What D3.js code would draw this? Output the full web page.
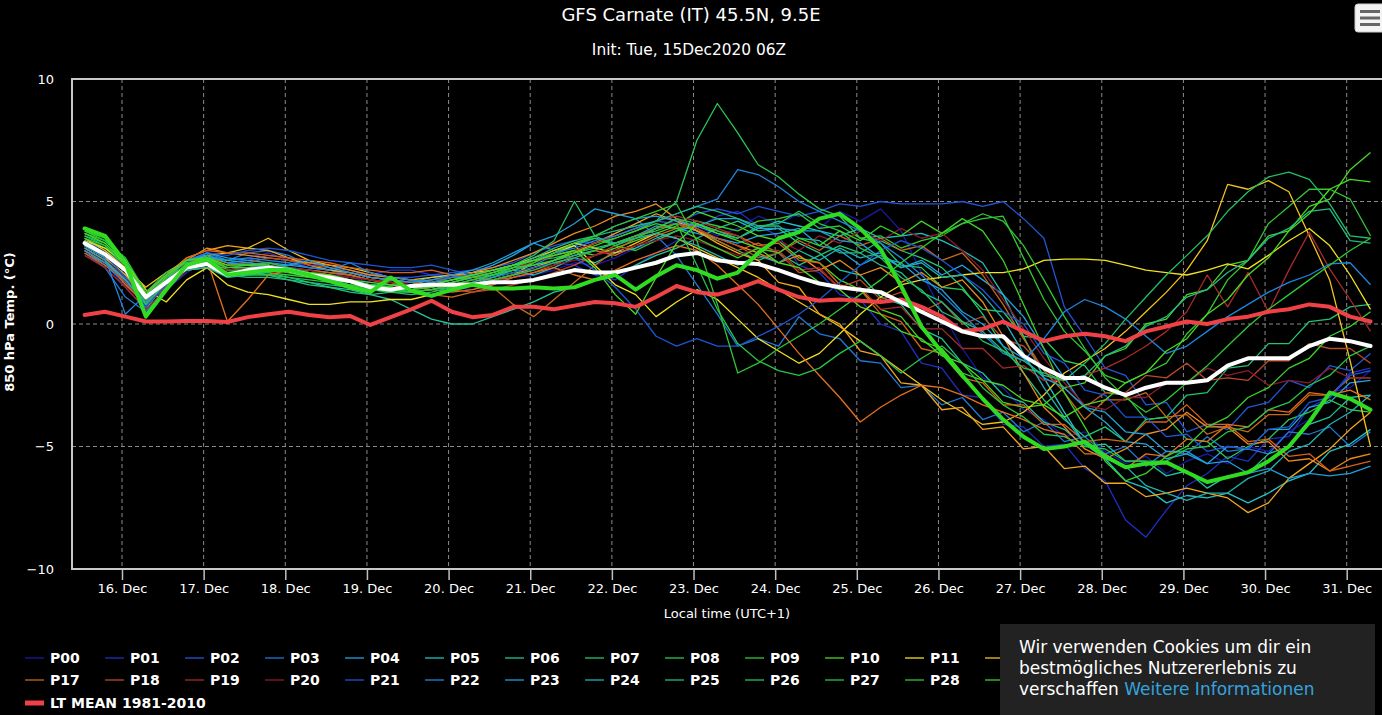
<!DOCTYPE html>
<html lang="de">
<head>
<meta charset="UTF-8">
<title>GFS Carnate (IT) 45.5N, 9.5E</title>
<style>
  * { box-sizing: border-box; }
  body { margin: 0; background: #000; overflow: hidden; font-family: "DejaVu Sans", sans-serif; }
  svg { display: block; }
  .grid line { stroke: #8a8a8a; stroke-width: 1; stroke-dasharray: 4,3; }
  .axis text { fill: #fff; font-size: 13px; font-family: "DejaVu Sans", sans-serif; }
  .axis .tick line { stroke: #c0c0c0; stroke-width: 1.5; }
  .member { fill: none; stroke-width: 1.3; stroke-linejoin: round; }
  .thick { fill: none; stroke-width: 4; stroke-linejoin: round; stroke-linecap: round; }
  .legend text { fill: #fff; font-size: 14px; font-weight: bold; }
  .cookie text { font-family: "DejaVu Sans", sans-serif; font-size: 17px; fill: #fff; }
  .cookie text.link { fill: #35a2de; }
</style>
</head>
<body>
<svg id="chart" width="1382" height="715"></svg>

<script src="https://d3js.org/d3.v7.min.js"></script>
<script>
// forecast steps: GFS ensemble, init 15 Dec 2020 06Z, every 6 h up to +384 h
var initUTC = Date.UTC(2020, 11, 15, 6);
var leadHours = d3.range(6, 385, 6);
var utcOffset = 1; // local time UTC+1

var memberNames = ['P00','P01','P02','P03','P04','P05','P06','P07','P08','P09','P10',
  'P11','P12','P13','P14','P15','P16','P17','P18','P19','P20',
  'P21','P22','P23','P24','P25','P26','P27','P28','P29','P30'];
var memberColors = ['#1a1aa6','#1f2fc4','#2255d9','#1f78d6','#22a4dd','#22c1c4','#22c49a',
  '#22c474','#2ac853','#34c832','#4cd622','#f0e21e','#f2c41e','#f2a51e','#ee8a1e',
  '#e6701e','#d8601a','#c66a1a','#bb4a26','#a82a2a','#8c1a2e','#1c55d6','#1f85dc',
  '#1f9fd8','#22b1b1','#22bb86','#22c062','#28c445','#30c832','#3ad228','#48dc20'];

// 850 hPa temperature (°C), one value per step
var p00 = [3.1,2.6,1.8,0.8,1.6,2.2,2.4,2.1,2.3,2.4,2.3,2.2,2.1,1.9,1.7,1.6,
  1.8,1.7,1.5,1.4,1.6,1.9,2.0,2.2,2.5,2.4,2.7,3.1,3.4,3.8,4.0,3.6,
  3.9,4.4,4.1,4.5,3.9,4.6,4.2,4.7,3.8,2.1,0.5,-1.0,-2.2,-2.6,-3.5,-3.9,
  -4.6,-4.4,-5.2,-5.7,-5.4,-6.1,-5.6,-5.3,-5.7,-5.0,-5.2,-4.4,-3.9,-2.8,-2.6,-1.9];
var p01 = [3.0,2.5,1.5,0.6,1.4,2.1,2.6,2.4,2.7,2.9,2.6,2.3,2.2,2.1,2.0,2.2,
  2.2,2.0,1.9,1.8,1.7,1.9,2.3,2.5,2.4,2.0,1.8,2.4,2.9,3.4,3.9,4.4,
  4.6,4.0,3.6,2.4,2.1,1.2,1.0,0.0,-0.3,-1.6,-1.8,-2.9,-3.0,-4.1,-4.2,-5.0,
  -4.9,-5.9,-6.4,-8.0,-8.7,-7.6,-6.6,-6.1,-5.4,-5.6,-4.7,-4.6,-3.4,-3.0,-2.0,-1.8];
var p02 = [3.4,3.0,2.4,1.2,1.9,2.6,2.8,2.5,2.6,2.8,2.7,2.5,2.3,2.2,2.0,1.9,
  1.9,2.0,2.1,2.2,2.3,2.5,2.9,3.2,3.4,3.3,3.6,3.9,4.2,4.1,4.5,4.7,
  4.5,4.8,4.6,4.4,4.6,4.9,4.8,5.0,4.9,4.9,4.9,5.0,4.8,5.0,4.3,3.5,
  0.7,-0.5,-1.8,-2.1,-3.3,-3.2,-4.4,-4.1,-4.3,-3.4,-3.2,-2.3,-2.6,-1.7,-1.9,-1.2];
var p03 = [2.9,2.3,1.1,0.5,1.5,2.4,2.8,2.6,2.9,3.0,2.8,2.4,2.2,2.0,1.8,1.7,
  1.6,1.5,1.7,1.9,2.0,2.2,2.4,2.8,3.2,3.6,4.0,4.3,3.6,2.8,1.6,0.4,
  -0.9,-0.6,-0.9,0.3,-0.4,-0.6,-1.5,-1.6,-2.6,-2.5,-3.3,-3.0,-3.9,-3.6,-4.4,-4.0,
  -4.8,-4.6,-5.3,-5.0,-5.8,-5.2,-5.3,-4.6,-5.2,-5.1,-5.3,-4.4,-4.5,-4.2,-5.0,-4.4];
var p04 = [3.0,2.4,1.7,0.7,1.6,2.5,2.9,2.7,2.6,2.5,2.4,2.3,2.2,2.1,1.9,1.8,
  1.7,1.9,2.0,2.1,2.4,2.8,3.3,3.0,3.2,3.5,3.3,3.6,4.0,3.9,3.7,3.5,
  3.3,3.6,3.7,3.9,3.2,3.0,2.4,2.8,2.3,2.6,2.0,2.4,1.8,1.2,0.3,-1.0,
  -2.2,-3.4,-4.0,-4.8,-4.9,-5.5,-5.3,-5.7,-5.0,-5.1,-4.3,-4.3,-3.4,-3.2,-2.4,-2.3];
var p05 = [3.2,2.7,2.0,0.9,1.8,2.4,2.5,2.2,2.3,2.4,2.2,2.1,1.9,1.8,1.6,1.6,
  1.6,1.8,1.9,1.9,2.0,2.2,2.0,2.3,2.7,2.5,2.9,3.1,3.5,3.8,4.0,3.7,
  3.5,3.9,4.2,4.0,3.8,3.6,3.9,3.5,3.6,3.7,3.4,3.0,2.5,1.2,-0.5,-2.2,
  -3.6,-4.9,-5.5,-6.4,-6.7,-7.3,-7.0,-7.1,-6.9,-7.3,-6.9,-6.4,-6.1,-5.2,-4.9,-4.3];
var p06 = [3.3,2.9,2.2,0.6,1.7,2.2,2.3,1.9,2.0,2.1,1.9,1.7,1.5,1.4,1.2,1.0,
  0.6,0.2,0.0,0.0,0.3,0.6,0.9,1.3,1.5,1.8,2.0,2.4,2.8,3.1,3.5,3.9,
  4.2,3.8,3.9,3.3,2.9,2.2,2.0,1.1,0.8,-0.2,-0.6,-1.6,-2.0,-2.9,-3.2,-4.0,
  -4.3,-5.0,-4.9,-5.6,-5.6,-6.2,-6.0,-6.7,-6.2,-6.1,-5.3,-5.0,-4.1,-3.8,-3.0,-2.9];
var p07 = [3.6,3.2,2.5,1.0,1.8,2.2,2.3,2.0,2.1,2.0,1.8,1.6,1.5,1.3,1.2,1.3,
  1.5,1.7,1.8,2.0,2.2,2.4,2.6,2.7,2.9,3.1,3.3,3.6,3.9,4.1,3.8,3.4,
  3.0,2.6,2.9,2.4,2.8,3.2,2.9,3.4,3.0,2.7,2.3,1.5,0.4,-0.9,-2.0,-3.1,
  -3.9,-4.6,-4.2,-4.8,-3.9,-3.8,-2.9,-2.8,-1.8,-1.7,-0.8,-0.8,0.1,0.2,0.7,0.8];
var p08 = [3.5,3.1,2.4,0.9,1.7,2.3,2.5,2.1,2.2,2.3,2.1,2.0,1.8,1.7,1.6,1.5,
  1.4,1.6,1.8,1.9,2.1,2.4,2.6,2.8,3.0,3.3,3.5,3.8,4.2,5.0,7.5,9.0,
  7.8,6.5,6.0,5.3,4.7,4.4,3.5,3.3,2.4,2.3,1.5,1.4,0.6,0.5,-0.5,-0.6,
  -1.5,-1.7,-2.8,-2.9,-3.9,-3.8,-4.7,-4.8,-5.5,-5.0,-4.7,-3.9,-3.6,-3.1,-3.5,-3.6];
var p09 = [3.8,3.4,2.6,1.2,2.0,2.5,2.6,2.2,2.2,2.1,2.0,1.9,1.8,1.6,1.5,1.4,
  1.3,1.4,1.6,1.8,2.0,2.3,2.6,3.0,3.3,3.5,3.2,3.0,3.4,3.8,4.2,4.0,
  3.8,4.2,4.3,4.5,3.9,4.0,3.5,3.6,3.1,3.4,3.6,4.1,4.3,4.4,2.7,1.0,
  -0.3,-1.1,-2.1,-2.4,-2.0,-1.6,-0.4,0.4,1.8,2.6,4.1,4.8,5.5,5.5,5.1,3.6];
var p10 = [3.9,3.6,2.6,0.4,1.5,2.5,2.8,2.2,2.3,2.4,2.2,2.1,1.9,1.7,1.5,1.4,
  1.3,1.4,1.6,1.7,1.9,2.1,2.3,2.6,3.0,2.8,3.1,3.4,3.7,4.0,4.6,4.3,
  4.0,3.6,3.4,2.7,2.5,1.8,1.4,0.6,0.3,-0.7,-1.0,-2.0,-2.3,-3.2,-3.4,-3.3,
  -2.6,-2.4,-1.3,-1.0,0.0,0.2,1.2,1.4,2.4,2.6,3.6,3.8,4.8,5.1,6.3,7.0];
var p11 = [3.4,3.1,2.5,1.4,0.9,1.8,2.3,1.6,1.3,1.2,1.0,0.8,0.8,0.9,0.9,1.0,
  1.0,1.2,1.4,1.6,1.8,2.0,2.5,2.9,3.2,2.4,1.6,1.2,0.3,0.9,1.4,1.0,
  0.2,-0.6,-1.1,-1.6,-1.2,-0.4,0.4,1.1,1.6,1.8,1.9,2.0,2.1,2.1,2.25,2.6,
  2.65,2.65,2.6,2.4,2.2,2.1,2.0,2.2,2.45,2.25,2.8,3.4,3.9,3.2,2.0,0.6];
var p12 = [3.5,3.0,2.3,1.5,2.1,2.6,2.8,2.9,3.1,3.5,3.0,2.6,2.4,2.3,2.1,1.9,
  1.8,1.9,2.0,2.1,2.2,2.4,2.7,3.0,3.3,3.1,2.9,3.3,3.7,3.5,3.1,2.7,
  2.3,1.9,1.4,0.9,0.4,-0.1,-0.7,-1.3,-1.9,-2.5,-3.1,-3.6,-4.1,-4.0,-3.6,-2.9,
  -2.0,-1.5,-1.0,-0.3,0.5,1.3,2.2,3.4,5.7,5.5,5.85,5.4,3.6,1.8,-1.5,-5.0];
var p13 = [3.2,2.7,2.0,1.3,2.0,2.7,3.0,3.2,3.1,3.0,2.7,2.4,2.2,2.1,1.9,1.8,
  1.7,1.6,1.5,1.6,1.8,2.0,2.3,2.6,2.9,3.3,3.7,4.1,4.5,4.2,3.8,3.3,
  2.9,2.6,1.7,1.5,0.4,0.0,-1.1,-1.3,-2.4,-2.5,-3.5,-3.4,-4.3,-4.2,-5.1,-5.0,
  -5.9,-5.8,-6.5,-6.5,-7.05,-6.9,-6.7,-6.9,-7.1,-7.7,-7.3,-6.3,-5.7,-5.1,-4.3,-3.6];
var p14 = [3.0,2.5,1.9,1.1,1.8,2.6,3.1,2.9,2.8,2.7,2.6,2.5,2.4,2.2,2.0,1.9,
  1.8,1.7,1.9,2.1,2.3,2.6,2.9,3.3,3.7,4.0,4.4,4.6,4.9,4.3,3.8,3.5,
  3.2,2.9,2.5,2.8,2.2,2.6,2.0,2.3,1.7,2.1,1.5,1.8,0.9,-0.5,-2.0,-3.4,
  -4.2,-5.1,-5.5,-5.1,-4.5,-4.3,-3.6,-4.2,-4.2,-4.9,-4.8,-5.6,-5.5,-6.0,-5.5,-5.3];
var p15 = [3.1,2.6,1.6,0.8,1.6,2.4,2.6,0.1,1.0,2.0,2.2,2.2,2.1,2.0,1.8,1.7,
  1.5,1.4,1.3,1.4,1.6,1.9,2.1,2.3,2.0,1.8,2.2,2.6,2.9,3.2,3.0,2.4,
  1.6,0.8,-0.2,-1.2,-2.1,-3.0,-4.0,-3.4,-2.9,-2.5,-2.6,-2.9,-3.3,-3.6,-3.9,-4.3,
  -4.5,-5.3,-5.3,-5.9,-5.3,-5.4,-4.7,-4.8,-4.1,-4.2,-3.5,-3.6,-2.8,-2.9,-2.7,-3.1];
var p16 = [2.9,2.4,1.8,1.0,1.9,2.7,3.0,2.9,2.9,2.8,2.7,2.6,2.5,2.3,2.2,2.1,
  2.1,2.2,2.0,1.9,1.8,1.9,2.1,2.4,2.8,3.0,2.8,3.2,3.6,3.9,4.1,3.8,
  3.6,3.2,3.3,2.6,2.5,1.6,1.4,0.4,0.1,-1.0,-1.2,-2.2,-2.4,-3.3,-3.3,-4.1,
  -4.1,-4.8,-4.7,-4.8,-4.0,-4.0,-3.3,-4.1,-4.1,-4.8,-4.7,-5.4,-5.3,-6.0,-5.8,-5.6];
var p17 = [3.1,2.6,1.9,0.9,1.7,2.5,2.7,2.5,2.4,2.3,2.3,2.2,2.1,2.0,1.8,1.6,
  1.4,1.2,1.1,1.3,1.5,0.8,0.3,1.0,1.7,2.4,3.0,3.5,3.9,4.3,3.9,3.4,
  3.0,3.3,2.9,3.4,3.0,3.6,3.2,3.5,3.0,3.2,2.6,2.9,2.0,0.8,-0.6,-1.9,
  -2.8,-3.9,-3.1,-3.1,-2.8,-3.8,-3.7,-4.5,-4.2,-4.4,-3.7,-3.7,-2.9,-2.9,-2.2,-2.2];
var p18 = [3.0,2.5,1.7,0.8,1.5,2.3,2.6,2.4,2.5,2.7,2.6,2.4,2.3,2.1,1.9,1.8,
  1.7,1.6,1.4,1.3,1.4,1.6,1.8,2.1,2.4,2.8,3.2,3.6,3.9,4.1,3.9,3.5,
  3.2,2.7,2.9,2.1,2.2,1.5,1.8,1.0,1.3,0.5,0.9,0.0,0.3,-0.6,-0.9,-1.8,
  -2.6,-3.4,-2.8,-2.8,-2.1,-2.2,-1.6,-2.3,-2.2,-2.3,-1.5,-1.5,-0.8,-1.0,-1.0,-1.6];
var p19 = [2.8,2.3,1.5,0.6,1.4,2.2,2.5,2.3,2.4,2.5,2.3,2.1,2.0,1.9,1.8,1.7,
  1.7,1.8,1.9,2.0,2.1,2.3,2.5,2.8,3.0,3.3,3.6,3.9,4.2,4.4,4.2,3.9,
  3.6,3.0,3.0,2.2,2.3,1.4,1.5,0.6,0.7,-0.2,-0.2,-1.0,-1.0,-1.8,-1.7,-2.3,
  -2.3,-2.1,-1.8,-1.4,-0.9,-0.3,0.5,2.0,0.7,2.1,0.5,2.2,3.75,2.25,1.0,-0.3];
var p20 = [3.0,2.6,1.9,0.9,1.7,2.3,2.4,2.2,2.3,2.4,2.3,2.2,2.0,1.9,1.8,1.7,
  1.6,1.5,1.6,1.7,1.8,2.0,2.2,2.4,2.6,2.8,3.0,3.2,3.4,3.6,3.4,3.1,
  2.8,3.1,3.4,3.0,3.6,3.3,3.8,3.4,3.9,3.5,3.7,3.0,2.2,1.0,-0.2,-1.4,
  -2.4,-3.3,-3.5,-3.0,-3.0,-2.4,-2.4,-1.8,-2.1,-1.9,-2.5,-2.3,-2.4,-1.8,-2.2,-2.2];
var p21 = [3.3,2.8,1.9,0.7,1.6,2.5,2.9,2.8,3.0,3.1,3.0,2.8,2.6,2.5,2.4,2.3,
  2.3,2.4,2.2,2.0,1.9,2.1,2.3,2.5,2.7,2.2,1.5,0.6,-0.5,-0.9,-0.6,-0.9,
  -0.9,-0.5,-0.1,0.4,1.0,1.7,2.4,3.0,3.4,3.1,2.6,2.0,1.4,0.5,0.0,-1.2,
  -1.6,-2.7,-2.9,-3.8,-3.8,-4.6,-4.5,-5.2,-5.0,-5.1,-4.3,-4.2,-3.2,-3.0,-2.1,-1.9];
var p22 = [3.2,2.7,0.4,1.2,2.0,2.6,2.9,2.6,2.7,2.6,2.5,2.3,2.2,2.5,2.1,1.9,
  1.8,1.7,1.9,2.0,2.2,2.4,2.6,2.9,3.1,3.4,3.6,3.9,4.2,4.5,4.8,5.1,
  6.3,6.1,5.6,5.0,4.6,4.2,3.8,3.3,2.7,2.0,1.2,0.4,-0.4,-1.2,-1.5,-0.6,
  0.5,1.0,0.7,0.2,-0.5,-1.2,-0.9,-0.3,0.3,0.8,1.3,1.7,2.0,2.45,2.5,1.6];
var p23 = [3.0,2.5,1.8,0.9,1.8,2.6,2.8,2.5,2.4,2.3,2.4,2.6,2.3,2.1,1.9,1.8,
  1.7,1.8,2.0,2.2,2.5,2.9,3.3,3.6,4.1,4.7,4.5,4.3,4.4,4.2,4.0,4.3,
  4.3,3.9,3.9,3.8,3.8,3.4,3.3,2.7,2.5,1.8,1.4,0.5,0.0,-0.9,-1.4,-2.2,
  -2.6,-3.4,-3.6,-4.4,-4.5,-5.2,-5.2,-5.7,-5.6,-6.1,-5.9,-6.3,-6.1,-6.2,-6.1,-5.8];
var p24 = [3.1,2.6,1.8,0.8,1.7,2.4,2.7,2.6,2.5,2.4,2.2,2.0,1.8,1.7,1.6,1.5,
  1.3,1.2,1.4,1.6,1.9,2.2,2.4,2.6,2.8,3.0,3.3,3.5,3.7,3.5,3.2,2.8,
  2.4,2.8,2.5,3.0,2.6,3.1,2.7,2.9,2.3,2.5,1.9,2.0,1.2,0.2,-1.2,-2.6,
  -3.8,-4.9,-5.5,-5.8,-6.6,-6.9,-7.2,-6.9,-6.9,-6.3,-6.0,-5.2,-4.9,-4.1,-3.6,-2.9];
var p25 = [3.4,2.9,2.2,1.1,1.8,2.2,2.3,2.0,1.9,1.9,1.8,1.7,1.6,1.5,1.4,1.3,
  1.2,1.3,1.5,1.7,2.0,2.3,2.7,3.1,3.4,3.6,3.8,4.0,4.2,4.5,4.8,4.6,
  4.3,4.0,4.0,3.5,3.4,2.9,2.9,2.4,2.1,1.3,0.9,0.1,-0.3,-1.1,-1.5,-2.1,
  -2.3,-2.1,-1.3,-0.9,-0.1,0.3,1.1,1.4,2.1,2.6,3.5,3.9,4.6,4.7,3.4,3.3];
var p26 = [3.6,3.3,2.5,0.8,1.7,2.4,2.6,2.3,2.4,2.5,2.3,2.1,2.0,1.8,1.6,1.5,
  1.4,1.5,1.7,1.9,2.1,2.4,2.8,3.4,5.0,3.6,3.2,3.5,3.9,4.3,4.1,3.8,
  3.5,4.0,4.1,4.6,4.1,3.8,3.1,2.7,1.9,1.4,0.5,0.1,-0.7,-1.1,-1.8,-2.0,
  -2.3,-1.6,-0.8,0.2,1.1,2.0,2.8,3.6,4.6,5.4,6.0,6.2,5.9,4.9,3.6,3.5];
var p27 = [3.7,3.4,2.7,1.3,2.1,2.5,2.5,2.1,2.0,2.0,1.9,1.8,1.7,1.6,1.4,1.3,
  1.3,1.4,1.5,1.6,1.8,2.0,2.2,2.5,2.7,3.0,3.3,3.6,3.8,4.1,2.4,0.6,
  -0.8,-1.5,-1.9,-2.1,-1.8,-1.2,-0.7,-1.3,-2.0,-1.4,-0.9,-1.6,-2.6,-3.3,-3.8,-4.5,
  -4.6,-5.0,-5.1,-5.6,-5.6,-5.6,-5.1,-5.0,-4.4,-4.2,-3.5,-3.2,-2.5,-2.1,-1.3,-0.9];
var p28 = [3.5,3.2,2.4,1.0,1.9,2.4,2.5,2.1,2.2,2.2,2.1,1.9,1.8,1.6,1.5,1.4,
  1.3,1.4,1.6,1.8,2.0,2.2,2.5,2.9,3.3,3.6,4.0,4.3,4.6,4.9,3.4,0.8,
  -2.0,-1.6,-1.0,-0.5,0.0,0.6,1.2,1.8,2.5,3.1,3.7,4.1,4.5,4.2,3.2,1.8,
  0.3,-1.0,-2.2,-3.0,-3.6,-3.1,-2.4,-1.7,-0.9,-0.1,0.6,1.2,1.8,2.4,3.0,3.5];
var p29 = [3.8,3.5,2.6,1.1,1.9,2.6,2.7,2.3,2.3,2.3,2.2,2.0,1.9,1.7,1.6,1.5,
  1.4,1.5,1.7,1.9,2.1,2.3,2.4,2.6,2.9,3.2,3.5,3.8,4.1,3.9,3.5,3.1,
  2.7,3.1,2.9,3.5,3.2,3.8,3.4,4.0,3.6,4.2,3.7,4.3,3.8,2.6,0.8,-1.0,
  -2.8,-4.2,-5.6,-6.4,-6.1,-5.4,-5.0,-4.2,-3.8,-3.0,-2.6,-1.8,-1.4,-0.5,-0.1,0.5];
var p30 = [3.7,3.3,2.5,1.2,2.0,2.6,2.7,2.4,2.4,2.4,2.2,2.1,2.0,1.8,1.7,1.6,
  1.5,1.6,1.8,2.0,2.2,2.4,2.6,2.8,3.0,2.3,1.2,0.4,1.9,3.3,4.1,3.7,
  3.4,3.1,2.5,2.3,1.7,1.4,0.7,0.4,-0.3,-0.6,-1.3,-1.6,-2.3,-2.5,-3.1,-3.3,
  -3.8,-3.3,-3.1,-2.4,-2.0,-1.1,-0.6,0.4,1.0,2.0,2.7,3.8,4.5,5.5,5.9,5.8];

var ensMean = [3.3,2.85,2.2,1.1,1.7,2.3,2.45,2.0,2.2,2.3,2.2,2.0,1.9,1.75,1.5,1.4,
  1.55,1.6,1.6,1.6,1.7,1.7,1.8,2.0,2.2,2.1,2.1,2.3,2.5,2.8,2.9,2.6,
  2.5,2.45,2.2,1.9,1.65,1.5,1.4,1.3,0.9,0.5,0.1,-0.3,-0.5,-0.5,-1.3,-1.8,
  -2.2,-2.2,-2.6,-2.9,-2.6,-2.4,-2.4,-2.3,-1.7,-1.4,-1.4,-1.4,-0.9,-0.6,-0.7,-0.9];
var gfsOp = [3.9,3.6,2.5,0.3,1.4,2.4,2.65,2.0,2.1,2.2,2.2,2.0,1.75,1.5,1.3,1.9,
  1.35,1.15,1.4,1.6,1.45,1.45,1.5,1.45,1.5,1.8,2.0,1.4,1.95,2.4,2.2,1.85,
  2.1,2.9,3.5,3.75,4.3,4.5,3.9,3.05,1.55,-0.1,-1.15,-2.1,-3.05,-3.9,-4.6,-5.1,
  -5.0,-4.8,-5.4,-5.85,-5.7,-5.65,-6.05,-6.45,-6.25,-6.05,-5.6,-5.0,-4.0,-2.8,-3.05,-3.5];
var ltMean = [0.37,0.5,0.3,0.1,0.1,0.12,0.12,0.08,0.28,0.4,0.5,0.37,0.28,0.33,-0.04,0.28,
  0.6,0.95,0.5,0.28,0.37,0.7,0.7,0.6,0.75,0.9,0.85,0.7,1.1,1.55,1.3,1.2,
  1.45,1.75,1.4,1.1,0.95,1.0,0.95,0.9,1.0,0.7,0.3,-0.3,-0.2,0.1,-0.3,-0.7,
  -0.5,-0.4,-0.5,-0.7,-0.3,-0.1,0.1,0.0,0.2,0.3,0.5,0.6,0.8,0.7,0.3,0.1];

var yTicks = [-10, -5, 0, 5, 10];
var cookieLines = ['Wir verwenden Cookies um dir ein', 'bestmögliches Nutzererlebnis zu', 'verschaffen'];
var cookieLink = 'Weitere Informationen';

var members = [p00,p01,p02,p03,p04,p05,p06,p07,p08,p09,p10,p11,p12,p13,p14,p15,
  p16,p17,p18,p19,p20,p21,p22,p23,p24,p25,p26,p27,p28,p29,p30];

var times = leadHours.map(function(h) { return new Date(initUTC + (h + utcOffset) * 3600e3); });

var svg = d3.select('#chart');
var plotLeft = 72, plotTop = 79, plotRight = 1382, plotBottom = 569;

var day16 = new Date(Date.UTC(2020, 11, 16));
var day31 = new Date(Date.UTC(2020, 11, 31));
var x = d3.scaleUtc().domain([day16, day31]).range([122, 1346.7]);
var y = d3.scaleLinear().domain([-10, 10]).range([plotBottom, plotTop]);
var dayTicks = d3.utcDay.range(day16, d3.utcDay.offset(day31, 1));

// titles
svg.append('text').attr('x', 691).attr('y', 21).attr('text-anchor', 'middle')
  .attr('fill', '#fff').style('font-size', '18px').text('GFS Carnate (IT) 45.5N, 9.5E');
svg.append('text').attr('x', 689).attr('y', 55).attr('text-anchor', 'middle')
  .attr('fill', '#fff').style('font-size', '15.4px').text('Init: Tue, 15Dec2020 06Z');

// grid
var grid = svg.append('g').attr('class', 'grid');
grid.selectAll('.v').data(dayTicks).enter().append('line')
  .attr('x1', d => x(d)).attr('x2', d => x(d))
  .attr('y1', plotTop).attr('y2', plotBottom);
grid.selectAll('.h').data([-5, 0, 5]).enter().append('line')
  .attr('x1', plotLeft).attr('x2', plotRight)
  .attr('y1', d => y(d)).attr('y2', d => y(d));

// axes
var xAxis = svg.append('g').attr('class', 'axis')
  .attr('transform', 'translate(0,' + plotBottom + ')')
  .call(d3.axisBottom(x).tickValues(dayTicks).tickFormat(d3.utcFormat('%-d. %b'))
    .tickSize(11).tickPadding(4));
xAxis.select('.domain').remove();

var yAxis = svg.append('g').attr('class', 'axis')
  .attr('transform', 'translate(' + plotLeft + ',0)')
  .call(d3.axisLeft(y).tickValues(yTicks).tickSize(0).tickPadding(18));
yAxis.select('.domain').remove();

svg.append('line').attr('x1', plotLeft).attr('x2', plotRight)
  .attr('y1', plotTop).attr('y2', plotTop).attr('stroke', '#c8c8c8').attr('stroke-width', 2);
svg.append('line').attr('x1', plotLeft).attr('x2', plotLeft)
  .attr('y1', plotTop - 1).attr('y2', plotBottom + 1).attr('stroke', '#c8c8c8').attr('stroke-width', 2);
svg.append('line').attr('x1', plotLeft).attr('x2', plotRight)
  .attr('y1', plotBottom).attr('y2', plotBottom).attr('stroke', '#c8c8c8').attr('stroke-width', 2);

svg.append('text').attr('x', 727).attr('y', 618).attr('text-anchor', 'middle')
  .attr('fill', '#fff').style('font-size', '13px').text('Local time (UTC+1)');
svg.append('text').attr('transform', 'translate(14,322) rotate(-90)')
  .attr('text-anchor', 'middle').attr('fill', '#fff')
  .style('font-size', '13px').style('font-weight', 'bold').text('850 hPa Temp. (°C)');

// series
var line = d3.line()
  .x(function(d, i) { return x(times[i]); })
  .y(function(d) { return y(d); });

svg.append('g').selectAll('path').data(members).enter().append('path')
  .attr('class', 'member')
  .attr('stroke', (d, i) => memberColors[i])
  .attr('d', line);

svg.append('path').attr('class', 'thick').attr('stroke', '#ef4146').attr('d', line(ltMean));
svg.append('path').attr('class', 'thick').attr('stroke', '#ffffff').attr('d', line(ensMean));
svg.append('path').attr('class', 'thick').attr('stroke', '#2fdc22').attr('d', line(gfsOp));

// legend; the cookie notice covers everything right of x=1000
var legendItems = memberNames.map(function(n, i) { return {name: n, color: memberColors[i], w: 1.3}; });
legendItems.push({name: 'MEAN', color: '#ffffff', w: 4});
legendItems.push({name: 'GFS', color: '#2fdc22', w: 4});
legendItems.push({name: 'LT MEAN 1981-2010', color: '#ef4146', w: 5});

var rowY = [658, 680, 703];
legendItems.forEach(function(d, i) {
  if (i < 17) d.pos = [25 + 80 * i, rowY[0]];
  else if (i < legendItems.length - 1) d.pos = [25 + 80 * (i - 17), rowY[1]];
  else d.pos = [25, rowY[2]];
});
var shown = legendItems.filter(d => d.pos[0] < 1000);

var legend = svg.append('g').attr('class', 'legend');
var item = legend.selectAll('g').data(shown).enter().append('g')
  .attr('transform', d => 'translate(' + d.pos.join(',') + ')');
item.append('line').attr('x1', 0).attr('x2', 19).attr('y1', 0).attr('y2', 0)
  .attr('stroke', d => d.color).attr('stroke-width', d => d.w);
item.filter(d => d.pos[0] + 25 < 1000)
  .append('text').attr('x', 25).attr('y', 5).text(d => d.name);

// menu button
var menu = svg.append('g');
menu.append('rect').attr('x', 1355).attr('y', 4).attr('width', 30).attr('height', 28)
  .attr('rx', 3).attr('fill', '#f4f4f4').attr('stroke', '#ccc');
menu.selectAll('.bar').data([11.5, 18, 24.5]).enter().append('line')
  .attr('x1', 1360).attr('x2', 1380).attr('y1', d => d).attr('y2', d => d)
  .attr('stroke', '#666').attr('stroke-width', 3);

// cookie notice
var cookie = svg.append('g').attr('class', 'cookie');
cookie.append('rect').attr('x', 1000).attr('y', 624).attr('width', 375).attr('height', 91)
  .attr('fill', '#222');
cookie.selectAll('text.line').data(cookieLines).enter().append('text')
  .attr('class', 'line')
  .attr('x', 1019).attr('y', (d, i) => 653 + 21 * i).text(d => d);
var lastLine = cookie.selectAll('text.line').filter((d, i) => i === 2).node();
var space = cookie.append('text').attr('x', -100).attr('y', -100).text('a a');
var spaceW = space.node().getComputedTextLength();
var aa = cookie.append('text').attr('x', -100).attr('y', -100).text('aa');
spaceW -= aa.node().getComputedTextLength();
space.remove(); aa.remove();
cookie.append('text').attr('class', 'link')
  .attr('x', 1019 + lastLine.getComputedTextLength() + spaceW).attr('y', 653 + 42)
  .text(cookieLink);
</script>
</body>
</html>
